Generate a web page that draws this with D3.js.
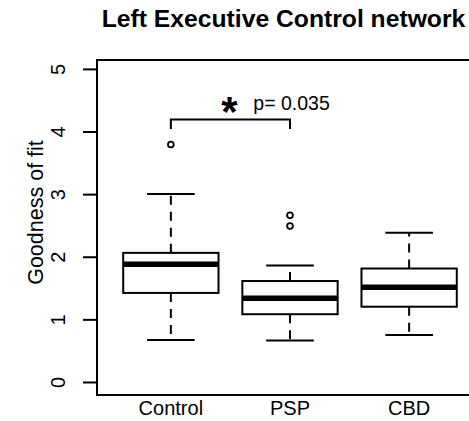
<!DOCTYPE html>
<html>
<head>
<meta charset="utf-8">
<script src="https://cdn.jsdelivr.net/npm/d3@7"></script>
<style>
  body { margin: 0; background: #fff; }
  svg { display: block; font-family: "Liberation Sans", Arial, sans-serif; }
</style>
</head>
<body>
<svg id="chart" width="469" height="421"></svg>
<script>
// data
const groups = ["Control", "PSP", "CBD"]
const lowerWhisker = [0.68, 0.67, 0.76]
const q1 = [1.43, 1.09, 1.21]
const median = [1.89, 1.345, 1.52]
const q3 = [2.07, 1.62, 1.82]
const upperWhisker = [3.01, 1.87, 2.39]
const outliers = [[3.80], [2.50, 2.67], []]
const yTicks = [0, 1, 2, 3, 4, 5]
const bracketY = [4.05, 4.2]
const pLabel = "p= 0.035"

const svg = d3.select("#chart")

const x = d3.scaleLinear().domain([0.38, 3.62]).range([97, 483])
const y = d3.scaleLinear().domain([-0.2, 5.15]).range([395, 60])
const boxW = (x(2) - x(1)) * 0.8

const stats = groups.map((g, i) => ({
  name: g, pos: i + 1,
  lw: lowerWhisker[i], q1: q1[i], med: median[i], q3: q3[i], uw: upperWhisker[i],
  out: outliers[i]
}))

// title
svg.append("text")
  .attr("x", 283.5).attr("y", 26.7)
  .attr("text-anchor", "middle")
  .style("font-weight", "bold").style("font-size", "24.7px")
  .text("Left Executive Control network")

// plot frame
svg.append("rect")
  .attr("x", x.range()[0]).attr("y", y.range()[1])
  .attr("width", x.range()[1] - x.range()[0])
  .attr("height", y.range()[0] - y.range()[1])
  .attr("fill", "none").attr("stroke", "black").attr("stroke-width", 2)

// y axis, R style
const yAxis = svg.append("g").attr("transform", `translate(${x.range()[0]},0)`)
yAxis.append("line")
  .attr("y1", y(0)).attr("y2", y(5))
  .attr("stroke", "black").attr("stroke-width", 2)
yAxis.selectAll(".tick").data(yTicks).enter().append("line")
  .attr("x1", -14).attr("x2", 0)
  .attr("y1", d => y(d)).attr("y2", d => y(d))
  .attr("stroke", "black").attr("stroke-width", 2)
yAxis.selectAll(".lab").data(yTicks).enter().append("text")
  .attr("transform", d => `translate(-32,${y(d)}) rotate(-90)`)
  .attr("text-anchor", "middle")
  .style("font-size", "20px")
  .text(d => d)

svg.append("text")
  .attr("transform", "translate(43,212.5) rotate(-90)")
  .attr("text-anchor", "middle")
  .style("font-size", "21.5px")
  .text("Goodness of fit")

// x labels
svg.selectAll(".xlab").data(stats).enter().append("text")
  .attr("x", d => x(d.pos)).attr("y", 415)
  .attr("text-anchor", "middle")
  .style("font-size", "20px")
  .text(d => d.name)

// boxes
const box = svg.selectAll(".box").data(stats).enter().append("g")

box.append("line")
  .attr("x1", d => x(d.pos)).attr("x2", d => x(d.pos))
  .attr("y1", d => y(d.q3)).attr("y2", d => y(d.uw))
  .attr("stroke", "black").attr("stroke-width", 2).attr("stroke-dasharray", "9,7")
box.append("line")
  .attr("x1", d => x(d.pos)).attr("x2", d => x(d.pos))
  .attr("y1", d => y(d.q1)).attr("y2", d => y(d.lw))
  .attr("stroke", "black").attr("stroke-width", 2).attr("stroke-dasharray", "9,7")
box.append("line")
  .attr("x1", d => x(d.pos) - boxW / 4).attr("x2", d => x(d.pos) + boxW / 4)
  .attr("y1", d => y(d.uw)).attr("y2", d => y(d.uw))
  .attr("stroke", "black").attr("stroke-width", 2)
box.append("line")
  .attr("x1", d => x(d.pos) - boxW / 4).attr("x2", d => x(d.pos) + boxW / 4)
  .attr("y1", d => y(d.lw)).attr("y2", d => y(d.lw))
  .attr("stroke", "black").attr("stroke-width", 2)
box.append("rect")
  .attr("x", d => x(d.pos) - boxW / 2).attr("width", boxW)
  .attr("y", d => y(d.q3)).attr("height", d => y(d.q1) - y(d.q3))
  .attr("fill", "white").attr("stroke", "black").attr("stroke-width", 2)
box.append("line")
  .attr("x1", d => x(d.pos) - boxW / 2).attr("x2", d => x(d.pos) + boxW / 2)
  .attr("y1", d => y(d.med)).attr("y2", d => y(d.med))
  .attr("stroke", "black").attr("stroke-width", 5.5)
box.selectAll("circle").data(d => d.out.map(v => ({pos: d.pos, v: v}))).enter()
  .append("circle")
  .attr("cx", d => x(d.pos)).attr("cy", d => y(d.v)).attr("r", 2.9)
  .attr("fill", "none").attr("stroke", "black").attr("stroke-width", 1.8)

// significance bracket
const bracket = [
  {px: 1, v: bracketY[0]}, {px: 1, v: bracketY[1]},
  {px: 2, v: bracketY[1]}, {px: 2, v: bracketY[0]}
]
const line = d3.line().x(d => x(d.px)).y(d => y(d.v))
svg.append("path")
  .datum(bracket)
  .attr("d", line)
  .attr("fill", "none").attr("stroke", "black").attr("stroke-width", 2)

svg.append("text")
  .attr("x", 229.5).attr("y", 126)
  .attr("text-anchor", "middle")
  .style("font-weight", "bold").style("font-size", "42px")
  .text("*")
svg.append("text")
  .attr("x", 253.3).attr("y", 110)
  .style("font-size", "19.5px")
  .text(pLabel)
</script>
</body>
</html>
